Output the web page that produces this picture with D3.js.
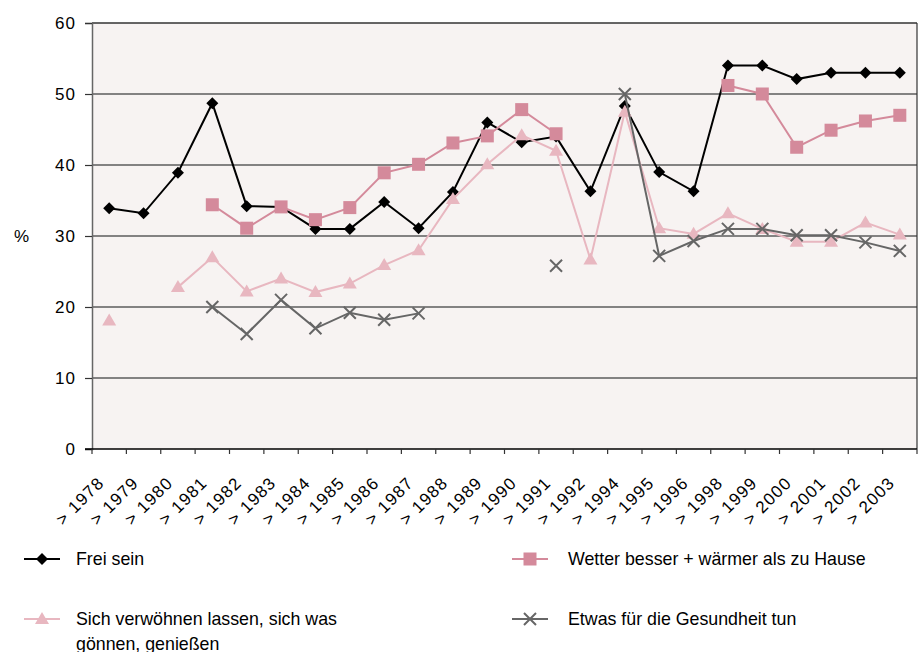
<!DOCTYPE html>
<html>
<head>
<meta charset="utf-8">
<script src="https://cdn.jsdelivr.net/npm/d3@7"></script>
<style>
  body { margin: 0; background: #fff; }
  svg { display: block; font-family: "Liberation Sans", Arial, sans-serif; }
  .tick-label { font-size: 17px; fill: #000; }
  .legend-text { font-size: 17.8px; fill: #000; }
</style>
</head>
<body>
<div id="chart"></div>
<script>
// categories (survey years)
const years = ["1978","1979","1980","1981","1982","1983","1984","1985","1986","1987","1988",
  "1989","1990","1991","1992","1994","1995","1996","1998","1999","2000","2001","2002","2003"];

const freiSein = [33.9,33.2,38.9,48.7,34.2,34.1,31.0,31.0,34.8,31.1,36.2,
  46.0,43.2,44.0,36.3,48.3,39.0,36.3,54.0,54.0,52.1,53.0,53.0,53.0];

const wetter = [null,null,null,34.4,31.1,34.1,32.3,34.0,38.9,40.1,43.1,
  44.1,47.8,44.4,null,null,null,null,51.2,50.0,42.5,44.9,46.2,47.0];

const verwoehnen = [18.1,null,22.8,27.0,22.2,24.0,22.1,23.3,25.9,28.0,35.2,
  40.1,44.2,42.0,26.7,47.5,31.1,30.3,33.2,31.0,29.2,29.2,31.9,30.2];

const gesundheit = [null,null,null,20.0,16.2,21.0,17.0,19.2,18.2,19.1,null,
  null,null,25.8,null,50.0,27.2,29.3,31.0,31.0,30.1,30.1,29.1,27.9];

const yTicks = [0, 10, 20, 30, 40, 50, 60];

const seriesNames = ["Frei sein", "Wetter besser + wärmer als zu Hause",
  "Sich verwöhnen lassen, sich was|gönnen, genießen", "Etwas für die Gesundheit tun"];

const series = [
  { name: seriesNames[0], values: freiSein, color: "#000000", marker: "diamond" },
  { name: seriesNames[1], values: wetter, color: "#d48a9b", marker: "square" },
  { name: seriesNames[2], values: verwoehnen, color: "#e8b7c0", marker: "triangle" },
  { name: seriesNames[3], values: gesundheit, color: "#666666", marker: "cross" }
];

const width = 922, height = 652;
const margin = { top: 23, right: 5, bottom: 203, left: 92 };

const svg = d3.select("#chart").append("svg")
  .attr("width", width)
  .attr("height", height);

const x = d3.scaleBand()
  .domain(years)
  .range([margin.left, width - margin.right]);

const y = d3.scaleLinear()
  .domain([0, 60])
  .range([height - margin.bottom, margin.top]);

// plot background
svg.append("rect")
  .attr("x", margin.left)
  .attr("y", margin.top)
  .attr("width", width - margin.left - margin.right)
  .attr("height", height - margin.top - margin.bottom)
  .attr("fill", "#f7f3f2");

// gridlines
svg.append("g")
  .selectAll("line")
  .data(yTicks.filter(d => d > 0))
  .enter().append("line")
  .attr("x1", margin.left)
  .attr("x2", width - margin.right)
  .attr("y1", d => y(d))
  .attr("y2", d => y(d))
  .attr("stroke", d => d === 60 ? "#333" : "#5c5c5c")
  .attr("stroke-width", 1.5);

// right border
svg.append("line")
  .attr("x1", width - margin.right).attr("x2", width - margin.right)
  .attr("y1", margin.top).attr("y2", y(0))
  .attr("stroke", "#333").attr("stroke-width", 1.2);

// y axis
const yAxis = svg.append("g")
  .attr("transform", `translate(${margin.left},0)`)
  .call(d3.axisLeft(y).tickValues(yTicks).tickSize(7).tickPadding(9));
yAxis.select(".domain").attr("stroke", "#666").attr("stroke-width", 1.5);
yAxis.selectAll(".tick line").attr("stroke", "#333").attr("stroke-width", 1.2);
yAxis.selectAll(".tick text")
  .attr("class", "tick-label")
  .attr("font-family", null)
  .attr("font-size", null)
  .style("letter-spacing", "1px");

svg.append("text")
  .attr("class", "tick-label")
  .attr("x", 14)
  .attr("y", y(30) + 6)
  .text("%");

// x axis: ticks at category boundaries
const boundaries = years.map(d => x(d)).concat([x.range()[1]]);
const xAxisG = svg.append("g");
xAxisG.append("line")
  .attr("x1", margin.left - 7).attr("x2", width - margin.right)
  .attr("y1", y(0)).attr("y2", y(0))
  .attr("stroke", "#000").attr("stroke-width", 1.5);
xAxisG.selectAll(".xt")
  .data(boundaries)
  .enter().append("line")
  .attr("x1", d => d).attr("x2", d => d)
  .attr("y1", y(0)).attr("y2", y(0) + 5)
  .attr("stroke", "#333").attr("stroke-width", 1.2);

xAxisG.selectAll(".xlab")
  .data(years)
  .enter().append("text")
  .attr("class", "tick-label")
  .attr("text-anchor", "end")
  .attr("transform", d => `translate(${x(d) + x.bandwidth() / 2 - 4},${y(0) + 35}) rotate(-45)`)
  .style("letter-spacing", "1.2px")
  .text(d => "> " + d);

// lines + markers
const line = d3.line()
  .defined(d => d.v !== null)
  .x(d => x(d.year) + x.bandwidth() / 2)
  .y(d => y(d.v));

function drawMarker(g, type, color) {
  if (type === "diamond") {
    g.append("path").attr("d", "M0,-6L6,0L0,6L-6,0Z").attr("fill", color);
  } else if (type === "square") {
    g.append("rect").attr("x", -6.5).attr("y", -6.5).attr("width", 13).attr("height", 13).attr("fill", color);
  } else if (type === "triangle") {
    g.append("path").attr("d", "M0,-7L7,5L-7,5Z").attr("fill", color);
  } else {
    g.append("path").attr("d", "M-6,-6L6,6M-6,6L6,-6")
      .attr("stroke", color).attr("stroke-width", 2).attr("fill", "none");
  }
}

series.forEach(s => {
  const pts = years.map((yr, i) => ({ year: yr, v: s.values[i] }));
  svg.append("path")
    .datum(pts)
    .attr("fill", "none")
    .attr("stroke", s.color)
    .attr("stroke-width", 2)
    .attr("d", line);

  svg.append("g").selectAll("g")
    .data(pts.filter(p => p.v !== null))
    .enter().append("g")
    .attr("transform", p => `translate(${x(p.year) + x.bandwidth() / 2},${y(p.v)})`)
    .each(function () { drawMarker(d3.select(this), s.marker, s.color); });
});

// legend
const legendPos = [
  { x: 24, y: 559, tx: 52 }, { x: 512, y: 559, tx: 56 },
  { x: 24, y: 619, tx: 52 }, { x: 512, y: 619, tx: 56 }
];
series.forEach((s, i) => {
  const p = legendPos[i];
  const g = svg.append("g").attr("transform", `translate(${p.x},${p.y})`);
  g.append("line").attr("x1", 0).attr("x2", 36).attr("y1", 0).attr("y2", 0)
    .attr("stroke", s.color).attr("stroke-width", 2);
  const m = g.append("g").attr("transform", "translate(18,0)");
  drawMarker(m, s.marker, s.color);
  const t = g.append("text").attr("class", "legend-text").attr("x", p.tx).attr("y", 6);
  s.name.split("|").forEach((part, j) => {
    t.append("tspan").attr("x", p.tx).attr("dy", j === 0 ? 0 : 25).text(part);
  });
});
</script>
</body>
</html>
